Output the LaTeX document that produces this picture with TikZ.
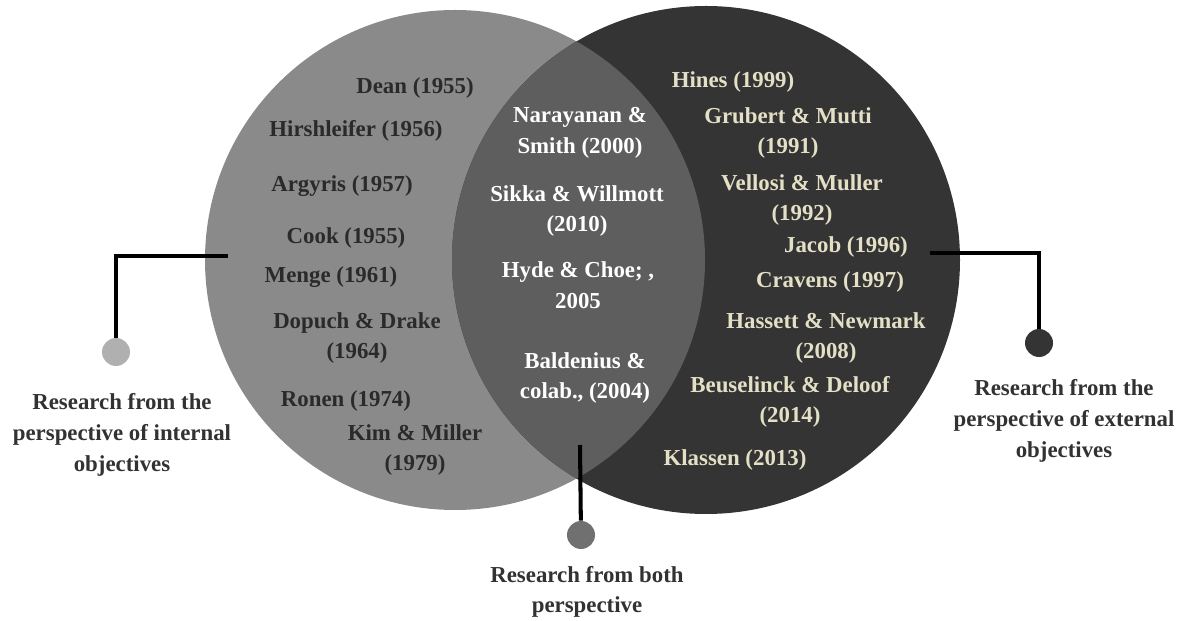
\documentclass[tikz,border=0pt]{standalone}
\usepackage{fontspec}
\setmainfont{Liberation Serif}
\usetikzlibrary{positioning,calc}
\definecolor{ingrey}{RGB}{138,138,138}
\definecolor{exgrey}{RGB}{52,52,52}
\definecolor{bothgrey}{RGB}{94,94,94}
\definecolor{inktext}{RGB}{42,42,42}
\definecolor{cream}{RGB}{228,224,198}
\definecolor{captiontext}{RGB}{50,50,50}
\definecolor{indotgrey}{RGB}{176,176,176}
\definecolor{bothdotgrey}{RGB}{112,112,112}

\begin{document}
\begin{tikzpicture}[
    x=0.02cm, y=-0.02cm,
    ref/.style = {align=center, inner sep=0pt, font=\bfseries\fontsize{13}{17.5}\selectfont},
    internal/.style = {ref, text=inktext},
    shared/.style = {ref, text=white},
    external/.style = {ref, text=cream},
    caption/.style = {ref, text=captiontext},
    dot/.style = {circle, minimum size=0.56cm, inner sep=0pt},
    link/.style = {line width=2.3pt, black}
]
\useasboundingbox (0,0) rectangle (1181,621);

\fill[ingrey] (455,260) circle [radius=250];
\fill[exgrey] (706,260) circle [radius=254];
\begin{scope}
\clip (455,260) circle [radius=250];
\fill[bothgrey] (706,260) circle [radius=254];
\end{scope}

\node[internal] (dean) at (415,88) {Dean (1955)};
\node[internal] (hirsh) at (356,131) {Hirshleifer (1956)};
\node[internal] (argyris) at (342,186) {Argyris (1957)};
\node[internal] (cook) at (346,238) {Cook (1955)};
\node[internal] (menge) at (331,277) {Menge (1961)};
\node[internal] (dopuch) at (357,338) {Dopuch \& Drake\\(1964)};
\node[internal] (ronen) at (346,401) {Ronen (1974)};
\node[internal] (kim) at (415,450) {Kim \& Miller\\(1979)};

\node[shared] (narayanan) at (580,133) {Narayanan \&\\Smith (2000)};
\node[shared] (sikka) at (577,211) {Sikka \& Willmott\\(2010)};
\node[shared] (hyde) at (578,285) {Hyde \& Choe; ,\\2005};
\node[shared] (baldenius) at (585,378) {Baldenius \&\\colab., (2004)};

\node[external] (hines) at (733,82) {Hines (1999)};
\node[external] (grubert) at (788,133) {Grubert \& Mutti\\(1991)};
\node[external] (vellosi) at (802,200) {Vellosi \& Muller\\(1992)};
\node[external] (jacob) at (846,247) {Jacob (1996)};
\node[external] (cravens) at (830,282) {Cravens (1997)};
\node[external] (hassett) at (826,338) {Hassett \& Newmark\\(2008)};
\node[external] (beuselinck) at (790,402) {Beuselinck \& Deloof\\(2014)};
\node[external] (klassen) at (735,460) {Klassen (2013)};

\coordinate (inhook) at (228,256);
\node[dot, fill=indotgrey] (indot) at (116,352) {};
\draw[link] (inhook) -| (indot);
\node[caption] (incaption) at (122,435) {Research from the\\perspective of internal\\objectives};

\coordinate (bothhook) at (580,445);
\node[dot, fill=bothdotgrey] (bothdot) at (581,535) {};
\draw[link] (bothhook) -- (bothdot);
\node[caption] (bothcaption) at (587,592) {Research from both\\perspective};

\coordinate (exhook) at (930,253);
\node[dot, fill=exgrey] (exdot) at (1039,343) {};
\draw[link] (exhook) -| (exdot);
\node[caption] (excaption) at (1064,421) {Research from the\\perspective of external\\objectives};
\end{tikzpicture}
\end{document}
